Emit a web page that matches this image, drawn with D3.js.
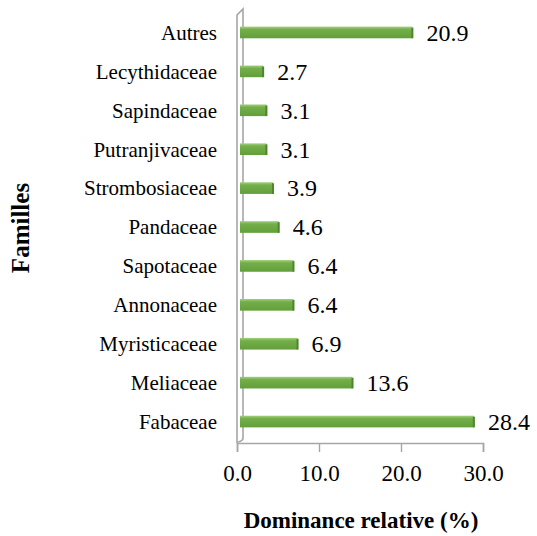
<!DOCTYPE html>
<html>
<head>
<meta charset="utf-8">
<script src="https://cdn.jsdelivr.net/npm/d3@7"></script>
<style>
body {margin:0;background:#fff;}
text {font-family:"Liberation Serif","Times New Roman",serif;fill:#000;}
.cat {font-size:21px;}
.val {font-size:24px;}
.tick text {font-size:23px;}
.title {font-size:23px;font-weight:bold;}
</style>
</head>
<body>
<svg id="chart" width="537" height="536"></svg>
<script>
// familles, bottom to top as in the chart
var familles = ['Fabaceae','Meliaceae','Myristicaceae','Annonaceae','Sapotaceae','Pandaceae',
                'Strombosiaceae','Putranjivaceae','Sapindaceae','Lecythidaceae','Autres']
var dominance = [28.4,13.6,6.9,6.4,6.4,4.6,3.9,3.1,3.1,2.7,20.9]
var ticks = [0,10,20,30]

var svg = d3.select('#chart')
var depth = 5 // 3d offset of the bars against the wall

var x = d3.scaleLinear().domain([0,30]).range([237,483])
var y = d3.scaleBand().domain(familles.slice().reverse()).range([13,441]).paddingInner(0.7).paddingOuter(0.35)

var defs = svg.append('defs')
var grad = defs.append('linearGradient').attr('id','barGrad').attr('x1',0).attr('y1',0).attr('x2',0).attr('y2',1)
grad.append('stop').attr('offset','0%').attr('stop-color','#a2d07f')
grad.append('stop').attr('offset','25%').attr('stop-color','#73ae49')
grad.append('stop').attr('offset','100%').attr('stop-color','#629f3a')

// back wall
var wall = svg.append('g').attr('fill','none').attr('stroke','#a6a6a6').attr('stroke-width',1.6)
wall.append('path').attr('d', 'M' + x(0) + ',' + (y.range()[1]+2) + 'V15L' + (x(0)+6) + ',9V' + (y.range()[1]-3) + 'Q' + (x(0)+6) + ',' + (y.range()[1]) + ' ' + (x(0)+1) + ',' + (y.range()[1]+1))

// bottom axis
var axis = d3.axisBottom(x).tickValues(ticks).tickFormat(d3.format('.1f')).tickSize(9).tickPadding(13)
var ax = svg.append('g').attr('transform','translate(0,' + (y.range()[1]+2) + ')').call(axis)
ax.attr('font-family',null).attr('font-size',null)
ax.select('.domain').attr('stroke','#a6a6a6').attr('stroke-width',1.6)
ax.selectAll('.tick line').attr('stroke','#a6a6a6').attr('stroke-width',1.4)

var data = familles.map(function(f,i){ return {name:f, value:dominance[i]} })

var bars = svg.append('g').selectAll('g').data(data).enter().append('g')
// front face
bars.append('rect')
  .attr('x', x(0)+3)
  .attr('y', function(d){ return y(d.name) })
  .attr('width', function(d){ return x(d.value) - x(0) + depth - 4 })
  .attr('height', y.bandwidth())
  .attr('fill','url(#barGrad)')
// end cap
bars.append('rect')
  .attr('x', function(d){ return x(d.value) + depth - 2 })
  .attr('y', function(d){ return y(d.name) + 1 })
  .attr('width', 2)
  .attr('height', y.bandwidth() - 1)
  .attr('fill','#4d852b')

// value labels
bars.append('text').attr('class','val')
  .attr('x', function(d){ return x(d.value) + depth + 13 })
  .attr('y', function(d){ return y(d.name) + y.bandwidth()/2 })
  .attr('dy','0.35em')
  .text(function(d){ return d.value.toFixed(1) })

// category labels
svg.append('g').selectAll('text').data(familles).enter().append('text').attr('class','cat')
  .attr('x', 217).attr('text-anchor','end')
  .attr('y', function(d){ return y(d) + y.bandwidth()/2 })
  .attr('dy','0.35em')
  .text(function(d){ return d })

svg.append('text').attr('class','title').attr('text-anchor','middle')
  .attr('x', 361).attr('y', 528).text('Dominance relative (%)')
svg.append('text').attr('class','title').attr('text-anchor','middle')
  .attr('transform','translate(29,228) rotate(-90)').style('font-size','25px').text('Familles')
</script>
</body>
</html>
